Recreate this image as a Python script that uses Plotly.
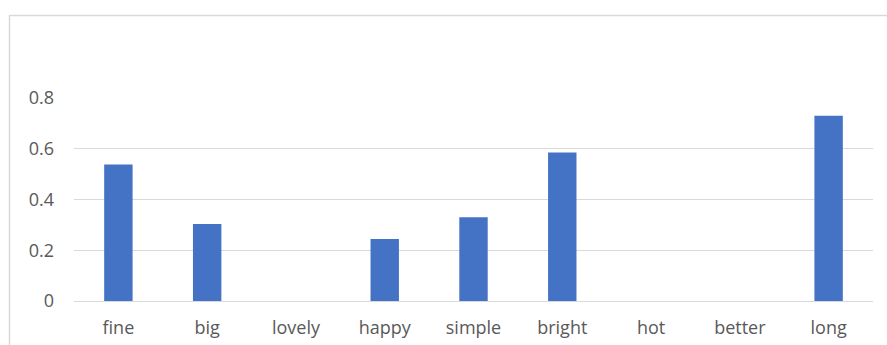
import plotly.graph_objects as go

categories = ["fine", "big", "lovely", "happy", "simple", "bright", "hot", "better", "long"]
values = [0.538, 0.303, 0, 0.244, 0.33, 0.585, 0, 0, 0.73]
tick_vals = [0, 0.2, 0.4, 0.6, 0.8]
tick_text = ["0", "0.2", "0.4", "0.6", "0.8"]

W, H = 887, 345
L, R, T, B = 74, 14, 97.5, 43.5
pw = W - L - R
ph = H - T - B

fig = go.Figure(go.Bar(x=categories, y=values, marker=dict(color="#4472C4", line=dict(width=0))))

def px_x(x):
    return (x - L) / pw

def px_y(y):
    return (H - B - y) / ph

fig.add_shape(type="rect", xref="paper", yref="paper",
              x0=px_x(9.5), x1=px_x(900), y0=px_y(360), y1=px_y(14.5),
              line=dict(color="#d9d9d9", width=1.5), fillcolor="rgba(0,0,0,0)", layer="below")

fig.update_layout(
    width=W, height=H,
    margin=dict(l=L, r=R, t=T, b=B, pad=0),
    paper_bgcolor="white", plot_bgcolor="white",
    bargap=0.68,
    showlegend=False,
    font=dict(family="Open Sans", size=18, color="#595959"),
    xaxis=dict(showgrid=False, showline=False, ticks="", tickfont=dict(size=18, color="#595959"),
               ticklabelstandoff=14, automargin=False),
    yaxis=dict(range=[0, 0.8], tickvals=tick_vals, ticktext=tick_text, showgrid=True,
               gridcolor="#d9d9d9", gridwidth=1, zeroline=True, zerolinecolor="#d9d9d9",
               zerolinewidth=1, showline=False, ticks="", ticklabelstandoff=19,
               tickfont=dict(size=18, color="#595959"), automargin=False),
)

fig.write_html("out.html")
